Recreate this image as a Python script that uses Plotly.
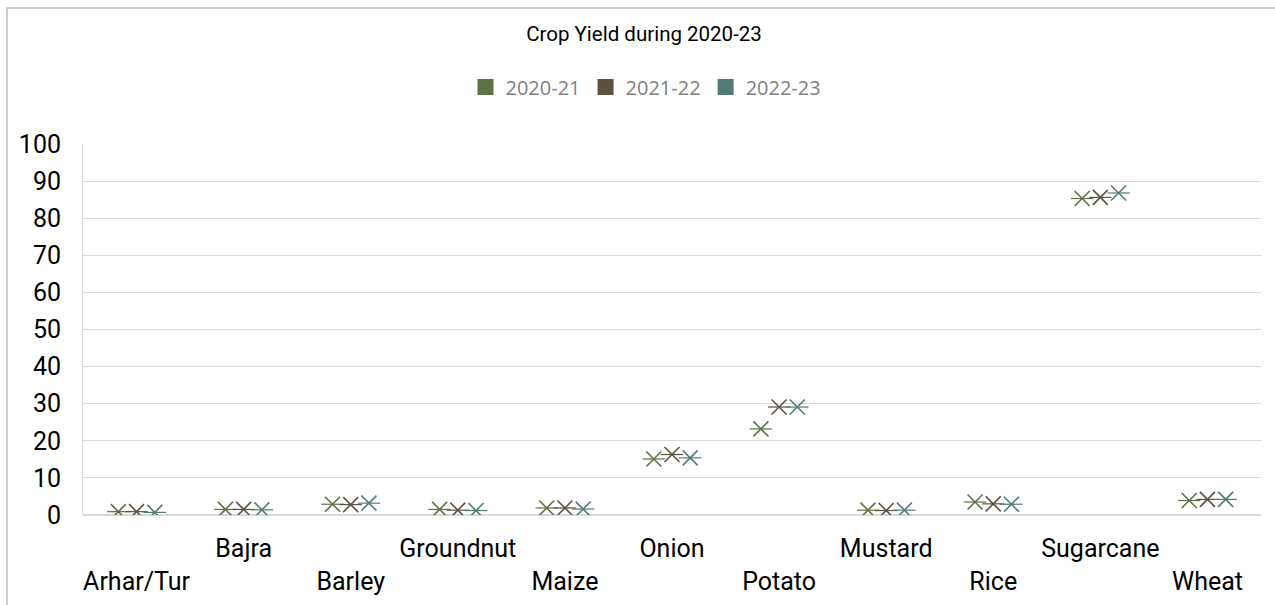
import plotly.graph_objects as go

categories = ["Arhar/Tur", "Bajra", "Barley", "Groundnut", "Maize", "Onion",
              "Potato", "Mustard", "Rice", "Sugarcane", "Wheat"]
series_names = ["2020-21", "2021-22", "2022-23"]
y_2020_21 = [0.9, 1.5, 2.9, 1.5, 1.9, 15.1, 23.2, 1.3, 3.5, 85.3, 3.9]
y_2021_22 = [0.9, 1.5, 2.8, 1.3, 1.9, 16.3, 29.1, 1.2, 3.0, 85.6, 4.2]
y_2022_23 = [0.7, 1.4, 3.2, 1.2, 1.6, 15.4, 29.1, 1.3, 2.9, 86.8, 4.2]
colors = ["#5d7245", "#5e5141", "#527b78"]
y_ticks = [0, 10, 20, 30, 40, 50, 60, 70, 80, 90, 100]

series = [y_2020_21, y_2021_22, y_2022_23]
offsets = [-0.17, 0.0, 0.17]

fig = go.Figure()
idx = list(range(len(categories)))
for name, vals, col, off in zip(series_names, series, colors, offsets):
    xs = [i + off for i in idx]
    fig.add_trace(go.Scatter(
        x=xs, y=vals, mode="markers", name=name, showlegend=False,
        marker=dict(symbol="x-thin-open", size=15, color=col,
                    line=dict(color=col, width=1.6)),
        hovertemplate="%{y}<extra>" + name + "</extra>"))
    fig.add_trace(go.Scatter(
        x=xs, y=vals, mode="markers", name=name, showlegend=False,
        marker=dict(symbol="line-ew-open", size=16, color=col,
                    line=dict(color=col, width=1.2)),
        hoverinfo="skip"))
    # legend entry
    fig.add_trace(go.Scatter(
        x=[None], y=[None], mode="markers", name=name, showlegend=True,
        marker=dict(symbol="square", size=20, color=col)))

ticktext = [c if i % 2 == 1 else "&nbsp;<br>" + c for i, c in enumerate(categories)]

L, R, T, B = 83, 14, 144, 90
W, H = 1275, 605
pw, ph = W - L - R, H - T - B

fig.update_layout(
    width=W, height=H,
    margin=dict(l=L, r=R, t=T, b=B, autoexpand=False),
    paper_bgcolor="white", plot_bgcolor="white",
    title=dict(text="Crop Yield during 2020-23", x=644 / W, xanchor="center",
               y=1 - 34 / H, yanchor="middle",
               font=dict(family="Roboto", size=20.5, color="#000000")),
    legend=dict(orientation="h", x=(646 - L) / pw, xanchor="center",
                y=1 + (144 - 87) / ph, yanchor="middle",
                font=dict(family="Open Sans", size=20, color="#7f7f7f"),
                itemwidth=30, tracegroupgap=0),
    xaxis=dict(range=[-0.5, len(categories) - 0.5], tickmode="array",
               tickvals=idx, ticktext=ticktext, showgrid=False,
               zeroline=False, showline=False, ticks="", automargin=False,
               tickfont=dict(family="Roboto", size=25, color="#000000"),
               ticklabelstandoff=16),
    yaxis=dict(range=[0, 100], tickmode="array", tickvals=y_ticks,
               showgrid=True, gridcolor="#d9d9d9", gridwidth=1,
               zeroline=True, zerolinecolor="#d9d9d9", zerolinewidth=1.5,
               showline=True, linecolor="#d9d9d9", linewidth=1,
               ticks="", automargin=False,
               tickfont=dict(family="Roboto", size=25, color="#000000"),
               ticklabelstandoff=16),
    shapes=[dict(type="rect", xref="paper", yref="paper",
                 x0=(7 - L) / pw, x1=(1290 - L) / pw,
                 y0=-1.0, y1=1 + (T - 8) / ph,
                 line=dict(color="#bfbfbf", width=1.5), layer="below")],
    showlegend=True,
)

fig.write_html("out.html")
